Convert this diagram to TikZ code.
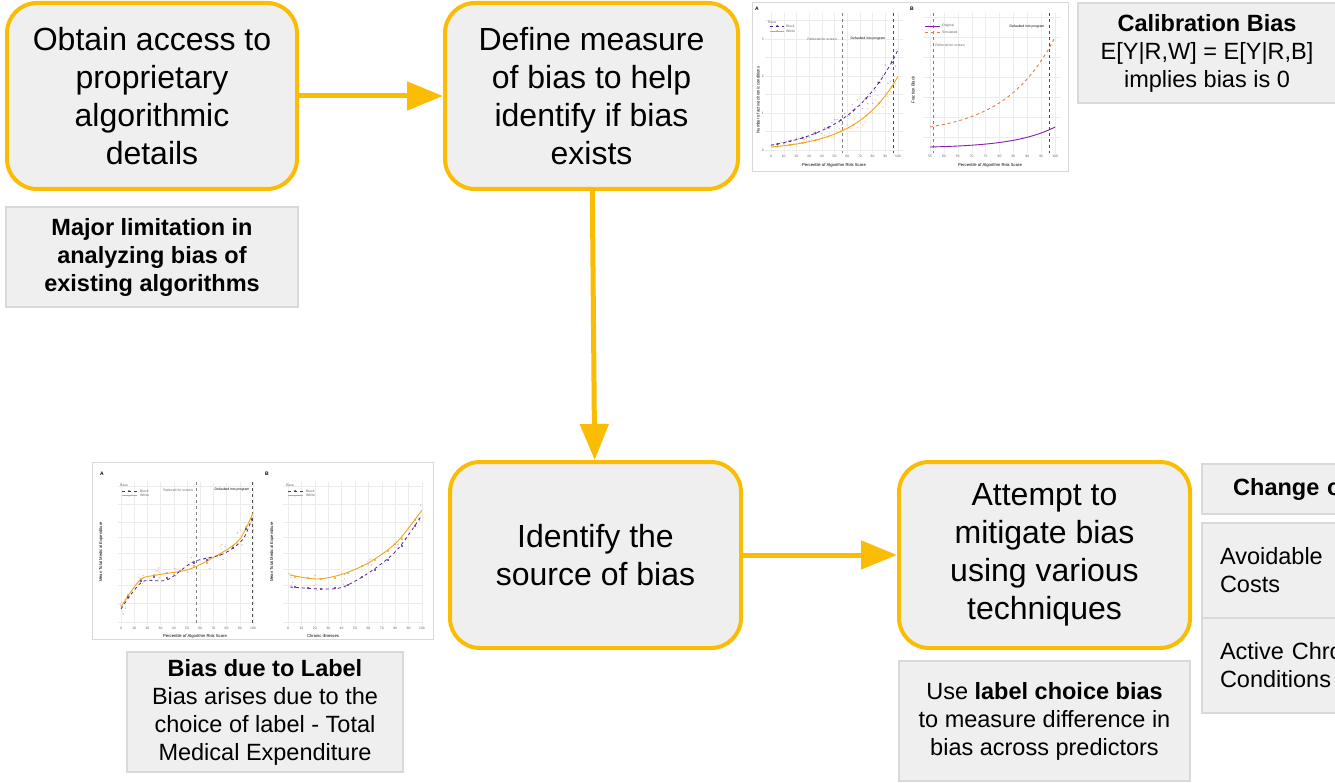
\documentclass[tikz,border=0pt]{standalone}
\usepackage{fontspec}
\setmainfont{Liberation Sans}
\usetikzlibrary{arrows.meta, positioning, calc}
\definecolor{gyellow}{RGB}{251,188,4}
\definecolor{boxgray}{RGB}{239,239,239}
\definecolor{edgegray}{RGB}{217,217,217}
\definecolor{plotpurple}{RGB}{84,39,136}
\definecolor{plotorange}{RGB}{240,165,30}
\definecolor{simorange}{RGB}{232,120,70}
\definecolor{gridgray}{RGB}{236,236,236}

\begin{document}
\begin{tikzpicture}[x=1pt, y=-1pt,
    stepbox/.style={draw=gyellow, line width=4pt, fill=boxgray, rounded corners=30pt,
                    align=center, inner sep=0pt, font=\fontsize{32}{38}\selectfont},
    note/.style={draw=edgegray, line width=2pt, fill=boxgray, align=center,
                 inner sep=0pt, font=\fontsize{23.5}{28}\selectfont},
    cell/.style={draw=edgegray, line width=2pt, fill=boxgray, anchor=north west,
                 text width=204pt, inner xsep=18pt, inner ysep=0pt,
                 font=\fontsize{23.5}{28}\selectfont},
    arrow/.style={-{Triangle[length=36pt, width=28pt]}, line width=5pt, draw=gyellow},
    plotframe/.style={draw=edgegray, line width=1.5pt, fill=white, inner sep=0pt},
    gridline/.style={gridgray, line width=0.4pt},
    refline/.style={dashed, gray, line width=0.5pt},
    tinytext/.style={font=\fontsize{3.4}{4}\selectfont, text=black!60, inner sep=0pt},
    axistitle/.style={font=\fontsize{4.2}{5}\selectfont, inner sep=0pt},
    panel/.style={font=\fontsize{5}{6}\bfseries\selectfont, inner sep=0pt},
]
    \fill[white] (0,0) rectangle (1335,783);
    \useasboundingbox (0,0) rectangle (1335,783);
    \clip (0,0) rectangle (1335,783);

    % main steps
    \node[stepbox, minimum width=290pt, minimum height=186pt] (obtain) at (152,96)
        {Obtain access to\\proprietary\\algorithmic\\details};
    \node[stepbox, minimum width=293pt, minimum height=186pt] (define) at (591.5,96)
        {Define measure\\of bias to help\\identify if bias\\exists};
    \node[stepbox, minimum width=291pt, minimum height=186pt] (identify) at (595.5,555)
        {Identify the\\source of bias};
    \node[stepbox, minimum width=291pt, minimum height=186pt] (mitigate) at (1044.5,555)
        {Attempt to\\mitigate bias\\using various\\techniques};

    % notes
    \node[note, minimum width=292pt, minimum height=100pt, below=15pt of obtain] (limit)
        {\textbf{Major limitation in}\\\textbf{analyzing bias of}\\\textbf{existing algorithms}};
    \node[note, minimum width=258pt, minimum height=100pt] (calib) at (1207,53)
        {\textbf{Calibration Bias}\\E[Y|R,W] = E[Y|R,B]\\implies bias is 0};
    \node[note, minimum width=276pt, minimum height=120pt] (labelbias) at (265,712)
        {\textbf{Bias due to Label}\\Bias arises due to the\\choice of label - Total\\Medical Expenditure};
    \node[note, minimum width=291pt, minimum height=120pt, below=10pt of mitigate] (choice)
        {Use \textbf{label choice bias}\\to measure difference in\\bias across predictors};

    % table of labels
    \node[cell, align=center, minimum height=50pt] (chhead) at (1201,463)
        {\textbf{Change of label}};
    \node[cell, align=left, minimum height=95pt] (avoid) at (1201,522)
        {Avoidable\\Costs};
    \node[cell, align=left, minimum height=95pt] (active) at (1201,617)
        {Active Chronic\\Conditions};

    \draw[arrow] (obtain) -- (define);
    \draw[arrow] (define) -- (identify);
    \draw[arrow] (identify) -- (mitigate);

    % calibration plot (top)
    \node[plotframe, minimum width=316pt, minimum height=169pt] (calplot) at (910.5,87) {};
    \foreach \g in {0,10,...,100}
        \draw[gridline] ({771+1.27*\g},13) -- ({771+1.27*\g},153);
    \foreach \g in {0,0.5,...,3.5}
        \draw[gridline] (765,{150-37*\g}) -- (903,{150-37*\g});
    \draw[refline] (842,13) -- (842,153);
    \draw[refline, black!70] (893,13) -- (893,153);
    \pgfmathsetseed{7}
    \foreach \p in {2,4,...,98} {
        \pgfmathsetmacro\yb{150-37*(0.13+0.23*(exp(0.025*\p)-1))*(1+0.22*rand)}
        \pgfmathsetmacro\yw{150-37*(0.08+0.1*(exp(0.03*\p)-1))*(1+0.2*rand)}
        \fill[plotpurple, opacity=.35] ({771+1.27*\p},\yb) circle (0.8);
        \fill[plotorange, opacity=.45] ({771+1.27*\p},\yw) circle (0.8);
    }
    \draw[plotpurple, dashed, line width=0.8pt] plot[domain=0:100, samples=40]
        ({771+1.27*\x},{150-37*(0.13+0.23*(exp(0.025*\x)-1))});
    \draw[plotorange, line width=0.9pt] plot[domain=0:100, samples=40]
        ({771+1.27*\x},{150-37*(0.08+0.1*(exp(0.03*\x)-1))});
    \foreach \p in {5,15,...,95} {
        \fill[plotpurple] ({771+1.27*\p},{150-37*(0.13+0.23*(exp(0.025*\p)-1))}) circle (1.1);
        \fill[plotorange] ({771+1.27*\p},{150-37*(0.08+0.1*(exp(0.03*\p)-1))}) circle (1.1);
    }
    \foreach \g in {0,10,...,100}
        \node[tinytext] (ta\g) at ({771+1.27*\g},156) {\g};
    \foreach \g in {0,1,2,3}
        \node[tinytext, anchor=east] (tv\g) at (764,{150-37*\g}) {\g};
    \node[panel] (pa) at (757,9) {A};
    \node[tinytext, anchor=west] (racea) at (768,22) {Race};
    \draw[plotpurple, dashed, line width=0.6pt] (770,26) -- (784,26);
    \fill[plotpurple] (777,26) circle (1);
    \node[tinytext, anchor=west] (blacka) at (786,26) {Black};
    \draw[plotorange, line width=0.7pt] (770,31) -- (784,31);
    \fill[plotorange] (777,31) circle (1);
    \node[tinytext, anchor=west] (whitea) at (786,31) {White};
    \node[tinytext] (refa) at (822,39) {Referred for screen};
    \node[tinytext, text=black] (defa) at (868,39) {Defaulted into program};
    \node[axistitle] (xta) at (834,165) {Percentile of Algorithm Risk Score};
    \node[axistitle, rotate=90] (yta) at (758,100) {Number of active chronic conditions};

    \foreach \g in {55,60,...,100}
        \draw[gridline] ({930+2.78*(\g-55)},13) -- ({930+2.78*(\g-55)},153);
    \foreach \g in {17,37,...,137}
        \draw[gridline] (923,\g) -- (1061,\g);
    \draw[refline] (933,13) -- (933,153);
    \draw[refline, black!70] (1049,13) -- (1049,153);
    \draw[simorange, dashed, line width=0.9pt] plot[domain=55:100, samples=40]
        ({930+2.78*(\x-55)},{127-90*(exp(2.5*(\x-55)/45)-1)/11.1825});
    \draw[plotpurple!70!magenta, line width=0.9pt] plot[domain=55:100, samples=40]
        ({930+2.78*(\x-55)},{147-20*(exp(3*(\x-55)/45)-1)/19.0855});
    \foreach \g in {55,60,...,100}
        \node[tinytext] (tb\g) at ({930+2.78*(\g-55)},156) {\g};
    \node[panel] (pb) at (912,9) {B};
    \draw[plotpurple!70!magenta, line width=0.6pt] (925,26) -- (940,26);
    \node[tinytext, anchor=west] (origb) at (942,26) {Original};
    \draw[simorange, dashed, line width=0.6pt] (925,32) -- (940,32);
    \node[tinytext, anchor=west] (simb) at (942,32) {Simulated};
    \node[tinytext] (refb) at (950,45) {Referred for screen};
    \node[tinytext, text=black] (defb) at (1027,27) {Defaulted into program};
    \node[axistitle] (xtb) at (990,165) {Percentile of Algorithm Risk Score};
    \node[axistitle, rotate=90] (ytb) at (913,90) {Fraction Black};

    % label-choice plot (bottom)
    \node[plotframe, minimum width=341pt, minimum height=177pt] (costplot) at (263,551) {};
    \foreach \g in {0,10,...,100} {
        \draw[gridline] ({121+1.32*\g},482) -- ({121+1.32*\g},625);
        \draw[gridline] ({288+1.34*\g},482) -- ({288+1.34*\g},625);
    }
    \foreach \g in {486,504,522,537,553,569,585,603,622} {
        \draw[gridline] (118,\g) -- (255,\g);
        \draw[gridline] (283,\g) -- (423,\g);
    }
    \draw[refline] (196,482) -- (196,625);
    \draw[refline, black!70] (252,482) -- (252,625);
    \pgfmathsetseed{3}
    \foreach \px/\py in {123/608,140/581,157/577,175/572,190/565,207/560,223/553,240/539,250/522,
                         290/581,317/584,343/581,370/567,397/546,420/514} {
        \foreach \k in {1,2,3} {
            \fill[plotpurple, opacity=.3] ({\px+3*rand},{\py+9*rand}) circle (0.8);
            \fill[plotorange, opacity=.35] ({\px+3*rand},{\py-3+7*rand}) circle (0.8);
        }
    }
    \draw[plotorange, line width=0.9pt] plot[smooth] coordinates
        {(121,607) (140,580) (157,575) (190,569) (223,552) (240,539) (253,513)};
    \draw[plotpurple, dashed, line width=0.8pt] plot[smooth] coordinates
        {(121,609) (142,582) (167,580) (193,562) (223,554) (243,539) (253,515)};
    \draw[plotorange, line width=0.9pt] plot[smooth] coordinates
        {(290,575) (317,579) (343,574) (370,562) (397,542) (422,510)};
    \draw[plotpurple, dashed, line width=0.8pt] plot[smooth] coordinates
        {(290,587) (323,589) (343,587) (370,572) (397,550) (422,515)};
    \foreach \px/\py in {128/597,141/581,154/577,167/578,180/571,194/563,207/560,220/555,233/548,246/529,
                         295/587,308/588,321/589,335/588,348/585,362/577,375/570,388/560,402/546,415/526}
        \fill[plotpurple] (\px,\py) circle (1.1);
    \foreach \px/\py in {128/595,141/579,154/575,167/573,180/571,194/566,207/563,220/555,233/546,246/527,
                         295/577,308/578,321/579,335/578,348/573,362/566,375/560,388/551,402/539,415/520}
        \fill[plotorange] (\px,\py) circle (1.1);
    \foreach \g in {0,10,...,100} {
        \node[tinytext] (tc\g) at ({121+1.32*\g},628) {\g};
        \node[tinytext] (td\g) at ({288+1.34*\g},628) {\g};
    }
    \node[panel] (pc) at (102,474) {A};
    \node[panel] (pd) at (267,474) {B};
    \node[tinytext, anchor=west] (racec) at (120,485) {Race};
    \draw[plotpurple, dashed, line width=0.6pt] (122,491) -- (137,491);
    \fill[plotpurple] (129,491) circle (1);
    \node[tinytext, anchor=west] (blackc) at (140,491) {Black};
    \draw[plotorange, line width=0.7pt] (122,495.5) -- (137,495.5);
    \fill[plotorange] (129,495.5) circle (1);
    \node[tinytext, anchor=west] (whitec) at (140,495.5) {White};
    \node[tinytext, anchor=west] (raced) at (286,485) {Race};
    \draw[plotpurple, dashed, line width=0.6pt] (288,491) -- (303,491);
    \fill[plotpurple] (295,491) circle (1);
    \node[tinytext, anchor=west] (blackd) at (306,491) {Black};
    \draw[plotorange, line width=0.7pt] (288,495.5) -- (303,495.5);
    \fill[plotorange] (295,495.5) circle (1);
    \node[tinytext, anchor=west] (whited) at (306,495.5) {White};
    \node[tinytext] (refc) at (178,490) {Referred for screen};
    \node[tinytext, text=black] (defc) at (232,490) {Defaulted into program};
    \node[axistitle] (xtc) at (195,636) {Percentile of Algorithm Risk Score};
    \node[axistitle] (xtd) at (323,636) {Chronic Illnesses};
    \node[axistitle, rotate=90] (ytc) at (101,552) {Mean Total Medical Expenditure};
    \node[axistitle, rotate=90] (ytd) at (272,552) {Mean Total Medical Expenditure};
\end{tikzpicture}
\end{document}
